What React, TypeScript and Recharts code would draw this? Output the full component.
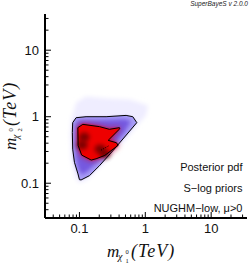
import React from "react";
import { ScatterChart, Scatter, XAxis, YAxis } from "recharts";

// log ticks (major ones get a label)
const xTicks = [0.03, 0.04, 0.05, 0.06, 0.07, 0.08, 0.09, 0.1, 0.2, 0.3, 0.4, 0.5, 0.6, 0.7, 0.8, 0.9, 1, 2, 3, 4, 5, 6, 7, 8, 9, 10, 20, 30];
const yTicks = [0.03, 0.04, 0.05, 0.06, 0.07, 0.08, 0.09, 0.1, 0.2, 0.3, 0.4, 0.5, 0.6, 0.7, 0.8, 0.9, 1, 2, 3, 4, 5, 6, 7, 8, 9, 10, 20, 30];

// faint posterior tail around the 95% region
const haloX = [0.075, 0.089, 0.126, 0.273, 0.588, 1.1, 1.03, 0.805, 0.53, 0.325, 0.192, 0.131, 0.099, 0.086, 0.075, 0.072];
const haloY = [0.91, 1.63, 2.01, 1.88, 1.81, 1.48, 1.05, 0.79, 0.474, 0.274, 0.163, 0.112, 0.101, 0.124, 0.231, 0.544];

// 95% credible contour
const outerX = [0.079, 0.089, 0.126, 0.254, 0.511, 0.646, 0.743, 0.5, 0.321, 0.201, 0.142, 0.106, 0.1, 0.095, 0.084, 0.079, 0.078];
const outerY = [0.814, 0.966, 1.0, 1.0, 1.046, 1.0, 0.814, 0.513, 0.307, 0.183, 0.13, 0.112, 0.113, 0.138, 0.206, 0.325, 0.577];

// purple transition band
const midX = [0.0875, 0.1025, 0.206, 0.494, 0.609, 0.477, 0.292, 0.192, 0.1355, 0.11, 0.0955, 0.0875, 0.086];
const midY = [0.822, 0.896, 0.896, 0.927, 0.851, 0.563, 0.325, 0.208, 0.153, 0.133, 0.163, 0.247, 0.458];

// 68% credible contour
const innerX = [0.0946, 0.1126, 0.201, 0.285, 0.405, 0.41, 0.273, 0.364, 0.387, 0.243, 0.179, 0.151, 0.108, 0.0955];
const innerY = [0.685, 0.767, 0.709, 0.646, 0.685, 0.659, 0.441, 0.406, 0.371, 0.262, 0.233, 0.223, 0.265, 0.371];

// high density spots
const coreX = [0.118, 0.11, 0.206, 0.245];
const coreY = [0.494, 0.375, 0.327, 0.275];

// tiny dotted contour
const dotX = [0.213, 0.254, 0.282];
const dotY = [0.314, 0.348, 0.367];

const zip = (xs: number[], ys: number[]) => xs.map((x, i) => ({ x, y: ys[i] }));

const isMajor = (v: number) => {
  const l = Math.log10(v);
  return Math.abs(l - Math.round(l)) < 1e-6;
};

const tickFont = { fontFamily: "'Liberation Sans', Arial, sans-serif", fontSize: 13, fill: "#111" };

function makeTick(side: "bottom" | "top" | "left" | "right") {
  return (props: any) => {
    const { x, y, payload } = props;
    const v = payload.value;
    const major = isMajor(v);
    const len = major ? 6 : 3.5;
    let line;
    if (side === "bottom") line = <line x1={x} x2={x} y1={y} y2={y - len} />;
    else if (side === "top") line = <line x1={x} x2={x} y1={y} y2={y + len} />;
    else if (side === "left") line = <line x1={x} x2={x + len} y1={y} y2={y} />;
    else line = <line x1={x} x2={x - len} y1={y} y2={y} />;
    return (
      <g stroke="#000" strokeWidth={1}>
        {line}
        {major && side === "bottom" && (
          <text x={x} y={y + 15} textAnchor="middle" stroke="none" {...tickFont}>
            {String(v)}
          </text>
        )}
        {major && side === "left" && (
          <text x={x - 6} y={y + 4.5} textAnchor="end" stroke="none" {...tickFont}>
            {String(v)}
          </text>
        )}
      </g>
    );
  };
}

const polygon = (fill: string, stroke: string, filter?: string, dash?: string, close = true) => (p: any) => {
  const pts = p.points || [];
  const d = pts.map((q: any, i: number) => `${i ? "L" : "M"}${q.x},${q.y}`).join(" ") + (close ? " Z" : "");
  return (
    <path
      d={d}
      fill={fill}
      stroke={stroke}
      strokeWidth={1}
      strokeDasharray={dash}
      strokeLinejoin="round"
      filter={filter}
    />
  );
};

const noShape = () => <g />;
const blobShape = (p: any) => (
  <ellipse cx={p.cx} cy={p.cy} rx={5.5} ry={4.5} fill="#5a0000" opacity={0.75} filter="url(#blur2)" />
);

const axisLine = { stroke: "#000", strokeWidth: 2 };
const serif = "'Liberation Serif', 'Times New Roman', serif";

function Title({ sub }: { sub: string }) {
  return (
    <g fontFamily={serif} fill="#111">
      <text x={0} y={0} fontSize={17} fontStyle="italic">m</text>
      <text x={11} y={3} fontSize={10} fontStyle="italic">χ</text>
      <text x={18.5} y={-3} fontSize={6.5}>0</text>
      <text x={18.5} y={6} fontSize={6.5}>{sub}</text>
      <text x={24} y={0} fontSize={18} fontStyle="italic" letterSpacing={1}>(TeV)</text>
    </g>
  );
}

export default function App() {
  return (
    <div style={{ position: "absolute", left: 0, top: 0, width: 249, height: 265, background: "#fff" }}>
      <svg width={0} height={0} style={{ position: "absolute" }}>
        <defs>
          <filter id="blur1" x="-30%" y="-30%" width="160%" height="160%">
            <feGaussianBlur stdDeviation={1.2} />
          </filter>
          <filter id="blur2" x="-40%" y="-40%" width="180%" height="180%">
            <feGaussianBlur stdDeviation={2} />
          </filter>
          <filter id="blur3" x="-50%" y="-50%" width="200%" height="200%">
            <feGaussianBlur stdDeviation={3.2} />
          </filter>
        </defs>
      </svg>
      <ScatterChart width={249} height={265} margin={{ top: 14, right: 2, bottom: 0, left: 0 }}>
        <XAxis
          xAxisId="b"
          type="number"
          dataKey="x"
          scale="log"
          domain={[0.03, 35]}
          allowDataOverflow
          ticks={xTicks}
          interval={0}
          tick={makeTick("bottom")}
          tickLine={false}
          tickSize={0}
          tickMargin={0}
          height={47}
          axisLine={axisLine}
        />
        <XAxis
          xAxisId="t"
          orientation="top"
          type="number"
          dataKey="x"
          scale="log"
          domain={[0.03, 35]}
          allowDataOverflow
          ticks={xTicks}
          interval={0}
          tick={makeTick("top")}
          tickLine={false}
          tickSize={0}
          tickMargin={0}
          height={0}
          axisLine={axisLine}
        />
        <YAxis
          yAxisId="l"
          type="number"
          dataKey="y"
          scale="log"
          domain={[0.03, 35]}
          allowDataOverflow
          ticks={yTicks}
          interval={0}
          tick={makeTick("left")}
          tickLine={false}
          tickSize={0}
          tickMargin={0}
          width={45}
          axisLine={axisLine}
        />
        <YAxis
          yAxisId="r"
          orientation="right"
          type="number"
          dataKey="y"
          scale="log"
          domain={[0.03, 35]}
          allowDataOverflow
          ticks={yTicks}
          interval={0}
          tick={makeTick("right")}
          tickLine={false}
          tickSize={0}
          tickMargin={0}
          width={0}
          axisLine={axisLine}
        />
        <Scatter xAxisId="b" yAxisId="l" data={zip(haloX, haloY)} shape={noShape}
          line={polygon("#efedff", "none", "url(#blur2)")} isAnimationActive={false} />
        <Scatter xAxisId="b" yAxisId="l" data={zip(outerX, outerY)} shape={noShape}
          line={polygon("#cdc6ff", "none", "url(#blur1)")} isAnimationActive={false} />
        <Scatter xAxisId="b" yAxisId="l" data={zip(outerX, outerY)} shape={noShape}
          line={polygon("#a99ef7", "none")} isAnimationActive={false} />
        <Scatter xAxisId="b" yAxisId="l" data={zip(midX, midY)} shape={noShape}
          line={polygon("#7458e0", "none", "url(#blur2)")} isAnimationActive={false} />
        <Scatter xAxisId="b" yAxisId="l" data={zip(innerX, innerY)} shape={noShape}
          line={polygon("#e00020", "none", "url(#blur3)")} isAnimationActive={false} />
        <Scatter xAxisId="b" yAxisId="l" data={zip(innerX, innerY)} shape={noShape}
          line={polygon("#f00008", "none", "url(#blur1)")} isAnimationActive={false} />
        <Scatter xAxisId="b" yAxisId="l" data={zip(innerX, innerY)} shape={noShape}
          line={polygon("#ee0000", "none")} isAnimationActive={false} />
        <Scatter xAxisId="b" yAxisId="l" data={zip(coreX, coreY)} shape={blobShape}
          isAnimationActive={false} />
        <Scatter xAxisId="b" yAxisId="l" data={zip(outerX, outerY)} shape={noShape}
          line={polygon("none", "#000")} isAnimationActive={false} />
        <Scatter xAxisId="b" yAxisId="l" data={zip(innerX, innerY)} shape={noShape}
          line={polygon("none", "#000")} isAnimationActive={false} />
        <Scatter xAxisId="b" yAxisId="l" data={zip(dotX, dotY)} shape={noShape}
          line={polygon("none", "#000", undefined, "1 1.5", false)} isAnimationActive={false} />
      </ScatterChart>
      <svg width={249} height={265} style={{ position: "absolute", left: 0, top: 0, pointerEvents: "none" }}>
        <text x={248} y={6} textAnchor="end" fontSize={6.5} fontStyle="italic"
          fontFamily="'Liberation Sans', Arial, sans-serif" fill="#222">SuperBayeS v 2.0.0</text>
        <g fontFamily="'Liberation Sans', Arial, sans-serif" fontSize={11} fill="#111" textAnchor="end">
          <text x={242.5} y={171}>Posterior pdf</text>
          <text x={242.5} y={192}>S−log priors</text>
          <text x={242.5} y={212}>NUGHM−low, μ&gt;0</text>
        </g>
        <g transform="translate(107,257)">
          <Title sub="1" />
        </g>
        <g transform="translate(16,150) rotate(-90)">
          <Title sub="2" />
        </g>
      </svg>
    </div>
  );
}
